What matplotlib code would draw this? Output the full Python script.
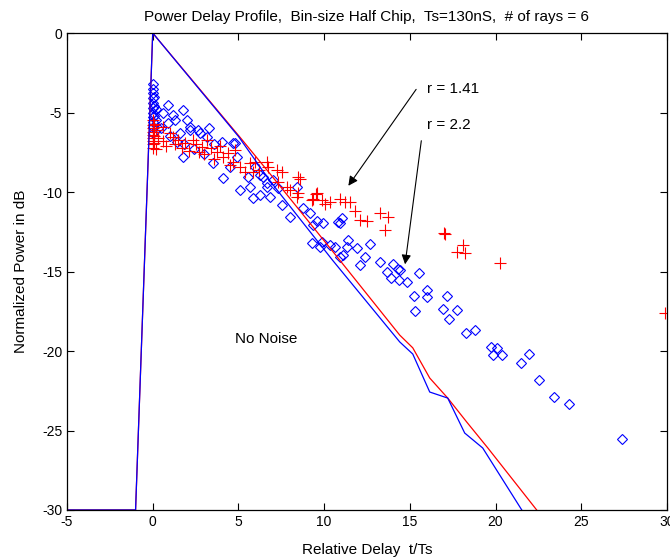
import matplotlib
matplotlib.use("Agg")
import matplotlib.pyplot as plt

plt.rcParams["font.family"] = ["Liberation Sans", "DejaVu Sans"]
plt.rcParams["axes.unicode_minus"] = False

# profile curves (relative delay, normalized power dB)
blue_line_x = [-5, -1, 0, 5.0, 6.8, 10.5, 14.41, 15.17, 16.16, 17.21, 18.2, 19.25, 21.53]
blue_line_y = [-30, -30, 0, -6.5, -9.25, -14.3, -19.43, -20.19, -22.58, -22.96, -25.16, -26.1, -30]
red_line_x = [-5, -1, 0, 5.08, 7.0, 10.7, 14.41, 15.17, 16.16, 17.21, 18.32, 19.55, 22.4]
red_line_y = [-30, -30, 0, -6.54, -9.06, -14.0, -19.0, -19.8, -21.7, -22.96, -24.47, -26.1, -30]

# r = 2.2 samples (diamonds)
blue_x = [0.0, 0.0, 0.0, 0.0, 0.0, 0.0, 0.0, 0.0, 0.0, 0.0, 0.0, 0.1, 0.1, 0.1, 0.2, 0.2, 0.3,
          0.88, 1.75, 0.58, 1.17, 2.16, 4.03, 1.58, 2.63, 3.15, 0.88, 1.4, 1.28, 2.16, 2.74,
          4.78, 1.75, 3.5, 4.49, 5.08, 5.54, 0.5, 1.0, 1.8, 2.4, 3.0, 3.6, 2.0, 3.3,
          4.67, 4.9, 4.08, 5.66, 5.83, 6.42, 6.65, 6.83, 7.0, 7.29, 7.53, 6.24,
          5.95, 6.24, 6.65, 7.99, 8.4, 8.75, 9.16, 9.92, 9.33, 10.91, 9.28, 9.86, 10.33,
          11.38, 11.32, 11.9, 12.37, 10.91, 9.57, 11.03, 10.79, 9.74, 10.62, 11.09,
          12.66, 13.24, 12.08, 14.0, 13.65, 14.29, 13.89, 14.35,
          14.41, 14.82, 15.52, 15.23, 15.29, 15.99, 15.99, 17.15, 16.92, 17.74, 17.27,
          18.26, 18.79, 19.72, 20.07, 19.84, 20.36, 21.47, 21.94, 22.52, 23.4, 24.27, 27.36]
blue_y = [-3.2, -3.5, -3.8, -4.1, -4.4, -4.7, -5.0, -5.3, -5.6, -5.9, -6.3, -4.0, -4.6, -5.2, -5.5, -4.8, -6.0,
          -4.53, -4.84, -5.03, -5.16, -5.91, -6.86, -6.29, -6.1, -6.54, -5.66, -6.86, -5.47, -6.1, -6.29,
          -6.92, -7.8, -8.18, -8.43, -9.87, -9.06, -6.0, -6.5, -7.0, -7.3, -7.6, -7.0, -5.5, -6.0,
          -6.92, -7.8, -9.12, -9.69, -10.38, -9.06, -9.69, -10.31, -9.25, -9.75, -10.82, -10.19,
          -8.43, -8.93, -9.43, -11.57, -9.69, -11.01, -11.32, -11.95, -12.08, -11.95, -13.21, -13.14, -13.33,
          -13.02, -13.46, -13.52, -14.09, -14.09, -11.82, -11.64, -11.89, -13.46, -13.46, -13.96,
          -13.3, -14.4, -14.6, -14.53, -15.03, -14.84, -15.41, -15.53,
          -14.9, -15.66, -15.09, -16.54, -17.48, -16.16, -16.6, -16.54, -17.36, -17.42, -17.99,
          -18.87, -18.68, -19.75, -19.81, -20.25, -20.25, -20.75, -20.19, -21.82, -22.89, -23.33, -25.53]

# r = 1.41 samples (plus signs)
red_x = [0.0, 0.0, 0.0, 0.0, 0.0, 0.0, 0.0, 0.0, 0.0, 0.1, 0.1, 0.1, 0.2, 0.2, 0.3,
         0.58, 0.6, 0.8, 1.0, 1.17, 1.3, 1.5, 1.7, 1.9, 2.1, 2.33, 2.5, 2.7, 2.86, 3.0, 3.15,
         3.4, 3.6, 3.73, 3.9, 4.08, 4.38, 4.5, 4.67, 4.78, 5.08, 5.37, 5.66, 5.83, 5.95, 6.2,
         6.65, 6.71, 7.23, 7.53, 7.29, 7.82, 7.99, 8.46, 8.58, 8.46, 8.4, 9.28, 9.57, 9.33,
         9.51, 9.86, 10.04, 10.33, 10.91, 11.2, 11.49, 11.79, 12.08, 12.49, 13.24, 13.71,
         13.54, 16.98, 17.04, 18.09, 17.74, 18.2, 20.25, 29.9]
red_y = [-5.5, -5.8, -6.0, -6.2, -6.4, -6.6, -6.8, -7.0, -7.2, -5.7, -6.5, -6.9, -6.1, -7.3, -6.6,
         -5.91, -6.8, -7.1, -6.3, -6.54, -7.0, -6.7, -7.2, -6.9, -7.4, -6.73, -7.0, -7.5, -7.17, -7.6, -6.73,
         -7.2, -7.9, -7.48, -7.1, -7.8, -7.55, -8.3, -8.11, -7.36, -8.43, -8.74, -8.18, -8.74, -8.11, -8.6,
         -8.11, -8.4, -8.62, -8.74, -9.37, -9.69, -9.87, -9.06, -9.2, -10.06, -10.31, -10.5, -10.06, -10.44,
         -10.13, -10.5, -10.75, -10.63, -10.44, -10.63, -10.63, -11.19, -11.76, -11.82, -11.32, -11.57,
         -12.39, -12.58, -12.62, -13.33, -13.77, -13.84, -14.47, -17.6]

x_ticks = [-5, 0, 5, 10, 15, 20, 25, 30]
y_ticks = [-30, -25, -20, -15, -10, -5, 0]

fig = plt.figure(figsize=(6.7, 5.6), dpi=100)
ax = fig.add_axes([0.1, 0.0893, 0.8955, 0.8517])

ax.plot(blue_x, blue_y, linestyle="none", marker="D", markersize=5.5, markerfacecolor="none",
        markeredgecolor="#0000ff", markeredgewidth=0.8)
ax.plot(red_x, red_y, linestyle="none", marker="+", markersize=8, color="#ff0000",
        markeredgewidth=0.8)
ax.plot(red_line_x, red_line_y, color="#ff0000", lw=0.9)
ax.plot(blue_line_x, blue_line_y, color="#0000ff", lw=0.9)

ax.annotate("", xy=(11.32, -9.75), xytext=(15.46, -3.4),
            arrowprops=dict(arrowstyle="-|>", color="k", lw=0.8, mutation_scale=14))
ax.annotate("", xy=(14.7, -14.72), xytext=(15.69, -6.6),
            arrowprops=dict(arrowstyle="-|>", color="k", lw=0.8, mutation_scale=14))
ax.text(15.99, -3.5, "r = 1.41", fontsize=11, va="center", ha="left")
ax.text(15.99, -5.79, "r = 2.2", fontsize=11, va="center", ha="left")
ax.text(4.78, -19.25, "No Noise", fontsize=11, va="center", ha="left")

ax.set_xlim(-5, 30)
ax.set_ylim(-30, 0)
ax.set_xticks(x_ticks)
ax.set_yticks(y_ticks)
ax.tick_params(direction="in", top=True, right=True, length=5, width=0.8, labelsize=10)
for s in ax.spines.values():
    s.set_linewidth(0.9)

ax.set_title("Power Delay Profile,  Bin-size Half Chip,  Ts=130nS,  # of rays = 6", fontsize=11, pad=9)
ax.set_xlabel("Relative Delay  t/Ts", fontsize=11, labelpad=10)
ax.set_ylabel("Normalized Power in dB", fontsize=11, labelpad=10)

fig.savefig("out.png", dpi=100)
